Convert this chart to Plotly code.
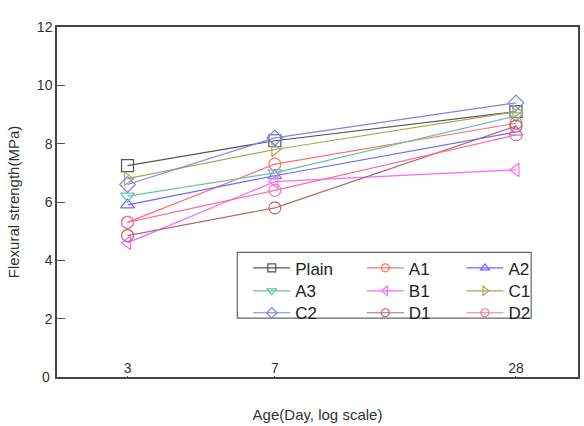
import plotly.graph_objects as go
import numpy as np

days = [3, 7, 28]
names = ["Plain", "A1", "A2", "A3", "B1", "C1", "C2", "D1", "D2"]
plain = [7.25, 8.1, 9.1]
a1 = [5.3, 7.3, 8.7]
a2 = [5.9, 6.9, 8.4]
a3 = [6.2, 7.0, 8.95]
b1 = [4.6, 6.7, 7.1]
c1 = [6.8, 7.8, 9.1]
c2 = [6.6, 8.2, 9.4]
d1 = [4.85, 5.8, 8.6]
d2 = [5.3, 6.4, 8.3]
series = [plain, a1, a2, a3, b1, c1, c2, d1, d2]
y_ticks = [0, 2, 4, 6, 8, 10, 12]
colors = ["#555555", "#ff6e6e", "#6a6aff", "#6cbfae", "#ff66ff", "#a8a850",
          "#8080ee", "#b06a6a", "#ff6f9c"]
symbols = ["square-open", "circle-open", "triangle-up-open", "triangle-down-open",
           "triangle-left-open", "triangle-right-open", "diamond-open",
           "circle-open", "circle-open"]

W0, W1, H0, H1 = 57, 580, 27, 378
def px(x):
    return (x - W0) / (W1 - W0)
def py(y):
    return (H1 - y) / (H1 - H0)

fig = go.Figure()
for i, (n, s) in enumerate(zip(names, series)):
    fig.add_trace(go.Scatter(
        x=days, y=s, name=n, mode="lines+markers", showlegend=False,
        line=dict(color=colors[i], width=1.2),
        marker=dict(symbol=symbols[i], size=12, color=colors[i],
                    line=dict(width=1.2, color=colors[i])),
    ))

font = "Liberation Sans, Arial, sans-serif"
leg_x = [249, 363, 463]
leg_y = [269, 292, 314]
legends = {}
# legend entries (smaller markers, as in the reference legend), one legend each
for i, n in enumerate(names):
    key = "legend" if i == 0 else f"legend{i + 1}"
    fig.add_trace(go.Scatter(
        x=[None], y=[None], name=n, mode="lines+markers",
        line=dict(color=colors[i], width=1.2),
        marker=dict(symbol=symbols[i], size=8, color=colors[i],
                    line=dict(width=1.2, color=colors[i])),
        legend=key,
    ))
    legends[key] = dict(bgcolor="rgba(0,0,0,0)", borderwidth=0,
                        yanchor="middle", xanchor="left",
                        x=px(leg_x[i % 3]), y=py(leg_y[i // 3]),
                        font=dict(size=17, color="#222", family=font),
                        itemwidth=37)

fig.update_layout(
    width=584, height=426,
    margin=dict(l=W0, r=584 - W1, t=H0, b=426 - H1),
    paper_bgcolor="white", plot_bgcolor="white",
    font=dict(family=font, color="#333"),
    shapes=[dict(type="rect", xref="paper", yref="paper",
                 x0=px(238), x1=px(533), y0=py(319), y1=py(253),
                 line=dict(color="#666", width=1.2))],
    annotations=[dict(text=str(y_ticks[0]), xref="paper", yref="y",
                      x=0, y=y_ticks[0], xanchor="right", yanchor="middle",
                      xshift=-5, showarrow=False,
                      font=dict(size=14, color="#333", family=font))],
    **legends,
)
fig.update_xaxes(type="log", range=[np.log10(2), np.log10(40)],
                 tickvals=days, ticktext=[str(d) for d in days],
                 ticks="inside", ticklen=1, tickcolor="#555",
                 ticklabelposition="inside", showgrid=False, zeroline=False,
                 showline=True, linecolor="#444", linewidth=1.5, mirror=True,
                 tickfont=dict(size=14, color="#333"),
                 title=dict(text="Age(Day, log scale)", standoff=34,
                            font=dict(size=15, color="#333")))
fig.update_yaxes(range=[0, 12], tickmode="array", tickvals=y_ticks,
                 ticktext=[str(v) for v in y_ticks],
                 ticks="inside", ticklen=8,
                 tickcolor="#555", showgrid=False, zeroline=False,
                 showline=True, linecolor="#444", linewidth=1.5, mirror=True,
                 tickfont=dict(size=14, color="#333"),
                 title=dict(text="Flexural strength(MPa)", standoff=14,
                            font=dict(size=15, color="#333")))
fig.write_html("out.html")
